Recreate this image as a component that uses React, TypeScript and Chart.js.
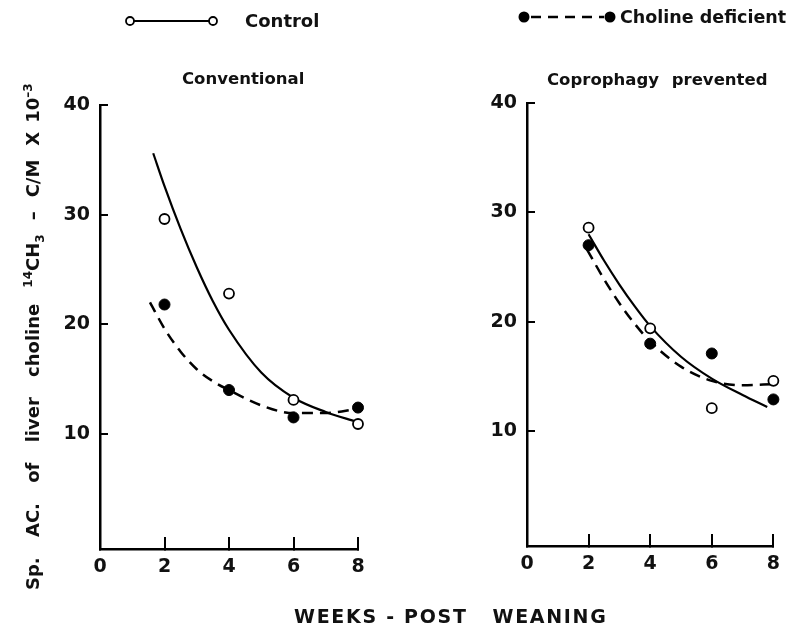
import React, { useEffect, useRef } from 'react';
import { Chart, registerables } from 'chart.js';

Chart.register(...registerables);

const X_TICKS = [0, 2, 4, 6, 8];
const Y_TICKS = [10, 20, 30, 40];
const WEEKS = [2, 4, 6, 8];

// Conventional panel: measured points
const CONV_CONTROL = [29.6, 22.8, 13.1, 10.9];
const CONV_DEFICIENT = [21.8, 14.0, 11.5, 12.4];
// Conventional panel: hand-drawn fitted curves
const CONV_CONTROL_FIT_X = [1.65, 2, 2.5, 3, 3.5, 4, 5, 6, 7, 7.95];
const CONV_CONTROL_FIT_Y = [35.6, 32.6, 28.7, 25.2, 22.1, 19.5, 15.6, 13.3, 12.0, 11.1];
const CONV_DEFICIENT_FIT_X = [1.55, 2, 2.5, 3, 3.5, 4, 5, 6, 7, 8];
const CONV_DEFICIENT_FIT_Y = [22.0, 19.6, 17.5, 15.9, 14.8, 14.0, 12.6, 11.9, 11.9, 12.3];

// Coprophagy prevented panel: measured points
const COPRO_CONTROL = [28.6, 19.4, 12.1, 14.6];
const COPRO_DEFICIENT = [27.0, 18.0, 17.1, 12.9];
// Coprophagy prevented panel: hand-drawn fitted curves
const COPRO_CONTROL_FIT_X = [2.0, 2.5, 3, 3.5, 4, 5, 6, 7, 7.8];
const COPRO_CONTROL_FIT_Y = [28.0, 25.6, 23.4, 21.4, 19.6, 16.8, 14.8, 13.3, 12.2];
const COPRO_DEFICIENT_FIT_X = [1.95, 2.5, 3, 3.5, 4, 5, 6, 7, 8];
const COPRO_DEFICIENT_FIT_Y = [26.6, 23.9, 21.7, 19.8, 18.2, 15.9, 14.6, 14.2, 14.3];

const FONT = "'DejaVu Sans', sans-serif";

type PanelProps = {
  left: number;
  top: number;
  width: number;
  height: number;
  pad: { left: number; right: number; top: number; bottom: number };
  control: number[];
  deficient: number[];
  cfx: number[];
  cfy: number[];
  dfx: number[];
  dfy: number[];
};

function Panel(p: PanelProps) {
  const ref = useRef<HTMLCanvasElement>(null);
  useEffect(() => {
    const pts = (xs: number[], ys: number[]) => xs.map((x, i) => ({ x, y: ys[i] }));
    const chart = new Chart(ref.current as HTMLCanvasElement, {
      type: 'line',
      data: {
        datasets: [
          {
            label: 'Control',
            data: pts(WEEKS, p.control),
            showLine: false,
            pointRadius: 5,
            pointBorderWidth: 1.8,
            pointBackgroundColor: '#fff',
            pointBorderColor: '#000',
            clip: false,
          } as any,
          {
            label: 'Choline deficient',
            data: pts(WEEKS, p.deficient),
            showLine: false,
            pointRadius: 5.5,
            pointBorderWidth: 1,
            pointBackgroundColor: '#000',
            pointBorderColor: '#000',
            clip: false,
          },
          {
            label: 'Control fit',
            data: pts(p.cfx, p.cfy),
            borderColor: '#000',
            borderWidth: 2.2,
            pointRadius: 0,
            cubicInterpolationMode: 'monotone',
            fill: false,
            clip: false,
          },
          {
            label: 'Choline deficient fit',
            data: pts(p.dfx, p.dfy),
            borderColor: '#000',
            borderWidth: 2.5,
            borderDash: [11, 7],
            pointRadius: 0,
            cubicInterpolationMode: 'monotone',
            fill: false,
            clip: false,
          },
        ],
      },
      options: {
        animation: false,
        responsive: false,
        maintainAspectRatio: false,
        events: [],
        layout: { padding: p.pad },
        plugins: { legend: { display: false }, tooltip: { enabled: false }, title: { display: false } },
        scales: {
          x: {
            type: 'linear',
            min: 0,
            max: 8,
            afterBuildTicks: (s: any) => {
              s.ticks = X_TICKS.map((v) => ({ value: v }));
            },
            afterFit: (s: any) => {
              s.height = 50;
            },
            grid: { drawOnChartArea: false, drawTicks: true, tickLength: -12, color: '#000', lineWidth: 2 },
            border: { display: true, color: '#000', width: 2.5 },
            ticks: { padding: 19, color: '#111', font: { family: FONT, size: 19, weight: 'bold' }, maxRotation: 0 },
          },
          y: {
            type: 'linear',
            min: -0.5,
            max: 40,
            afterBuildTicks: (s: any) => {
              s.ticks = Y_TICKS.map((v) => ({ value: v }));
            },
            afterFit: (s: any) => {
              s.width = 50;
            },
            grid: { drawOnChartArea: false, drawTicks: true, tickLength: -8, color: '#000', lineWidth: 2 },
            border: { display: true, color: '#000', width: 2.5 },
            ticks: { padding: 18, color: '#111', font: { family: FONT, size: 19, weight: 'bold' } },
          },
        },
      } as any,
    });
    return () => chart.destroy();
  }, []);
  return (
    <canvas
      ref={ref}
      width={p.width}
      height={p.height}
      style={{ position: 'absolute', left: p.left, top: p.top, width: p.width, height: p.height }}
    />
  );
}

const txt: React.CSSProperties = {
  position: 'absolute',
  fontFamily: FONT,
  fontWeight: 'bold',
  color: '#111',
  whiteSpace: 'nowrap',
  lineHeight: '24px',
};

export default function App() {
  return (
    <div style={{ position: 'fixed', left: 0, top: 0, width: 799, height: 644, background: '#fff', overflow: 'hidden' }}>
      <Panel
        left={0}
        top={0}
        width={400}
        height={644}
        pad={{ left: 50, right: 42, top: 105, bottom: 45 }}
        control={CONV_CONTROL}
        deficient={CONV_DEFICIENT}
        cfx={CONV_CONTROL_FIT_X}
        cfy={CONV_CONTROL_FIT_Y}
        dfx={CONV_DEFICIENT_FIT_X}
        dfy={CONV_DEFICIENT_FIT_Y}
      />
      <Panel
        left={400}
        top={0}
        width={399}
        height={644}
        pad={{ left: 77, right: 12, top: 103, bottom: 48 }}
        control={COPRO_CONTROL}
        deficient={COPRO_DEFICIENT}
        cfx={COPRO_CONTROL_FIT_X}
        cfy={COPRO_CONTROL_FIT_Y}
        dfx={COPRO_DEFICIENT_FIT_X}
        dfy={COPRO_DEFICIENT_FIT_Y}
      />

      {/* legend symbols */}
      <svg width={799} height={40} style={{ position: 'absolute', left: 0, top: 0 }}>
        <line x1={134} y1={21} x2={209} y2={21} stroke="#000" strokeWidth={2.2} />
        <circle cx={130} cy={21} r={4} fill="#fff" stroke="#000" strokeWidth={1.8} />
        <circle cx={213} cy={21} r={4} fill="#fff" stroke="#000" strokeWidth={1.8} />
        <line x1={531} y1={17} x2={604} y2={17} stroke="#000" strokeWidth={2.5} strokeDasharray="10 7" />
        <circle cx={524} cy={17} r={5.5} fill="#000" />
        <circle cx={610} cy={17} r={5.5} fill="#000" />
      </svg>
      <div style={{ ...txt, left: 245, top: 9, fontSize: 18 }}>Control</div>
      <div style={{ ...txt, left: 620, top: 5, fontSize: 17.5 }}>Choline deficient</div>

      {/* panel titles */}
      <div style={{ ...txt, left: 182, top: 67, fontSize: 16.5 }}>Conventional</div>
      <div style={{ ...txt, left: 547, top: 68, fontSize: 16.5, wordSpacing: 7 }}>Coprophagy prevented</div>

      {/* y axis title */}
      <div
        style={{
          ...txt,
          left: 28 - 260,
          top: 330 - 12,
          width: 520,
          height: 24,
          fontSize: 18,
          transform: 'rotate(-90deg)',
          transformOrigin: '50% 50%',
        }}
      >
        <span style={{ wordSpacing: 14 }}>Sp. AC. of liver choline</span>
        <span style={{ marginLeft: 16 }}>
          <sup style={{ fontSize: 12 }}>14</sup>CH<sub style={{ fontSize: 12 }}>3</sub>
        </span>
        <span style={{ marginLeft: 14 }}>–</span>
        <span style={{ marginLeft: 14 }}>C/M</span>
        <span style={{ marginLeft: 14 }}>X</span>
        <span style={{ marginLeft: 9 }}>
          10<sup style={{ fontSize: 12 }}>–3</sup>
        </span>
      </div>

      {/* x axis title */}
      <div style={{ ...txt, left: 294, top: 604, fontSize: 19, letterSpacing: 1.7 }}>
        WEEKS - POST&nbsp;&nbsp;&nbsp;WEANING
      </div>
    </div>
  );
}
